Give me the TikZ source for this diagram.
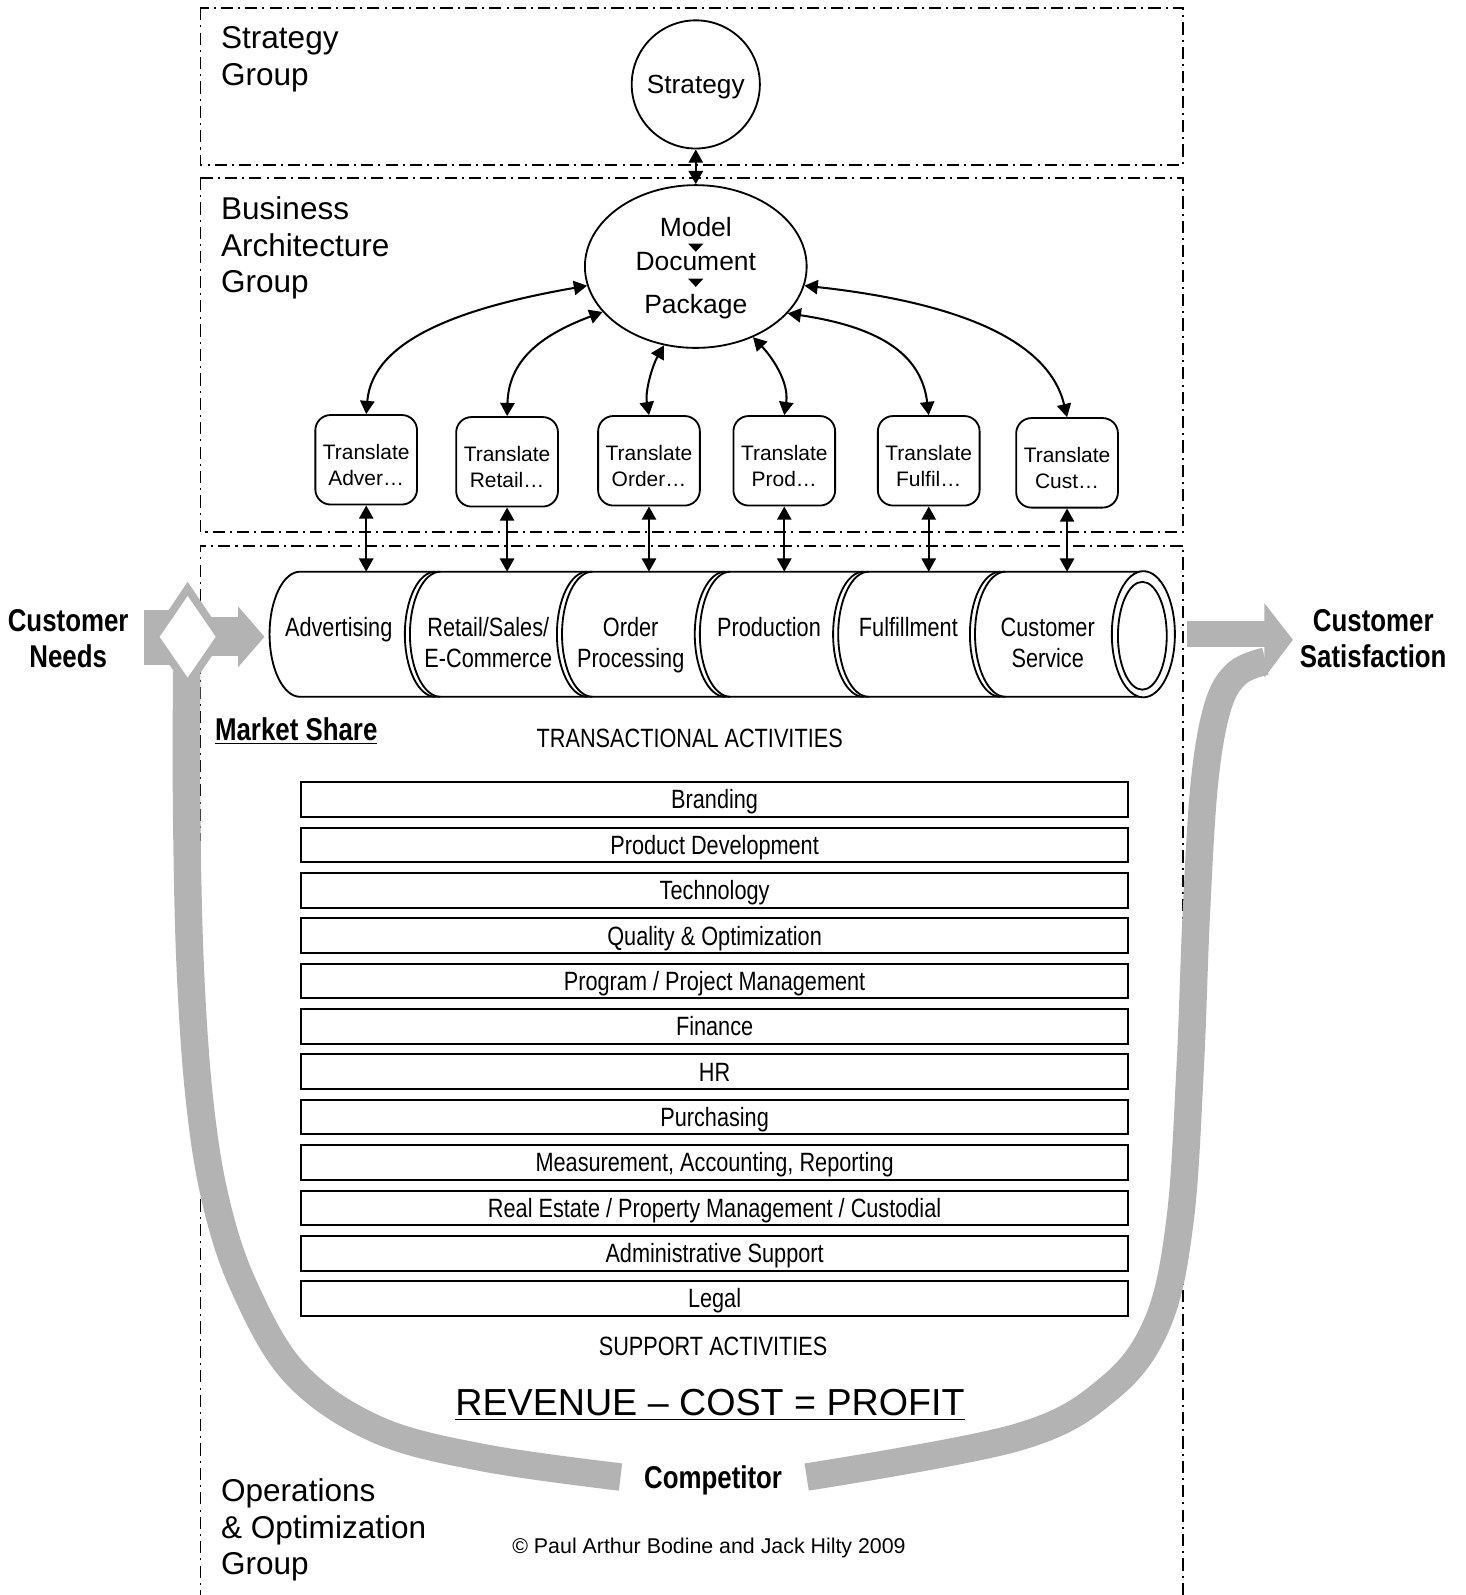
\documentclass[tikz,border=0pt]{standalone}
\usepackage{fontspec}
\setmainfont{Liberation Sans}
\newfontfamily\narrow[FakeStretch=0.82]{Liberation Sans}
\usetikzlibrary{arrows.meta,shapes.geometric}
\definecolor{band}{RGB}{179,179,179}
\begin{document}
\begin{tikzpicture}[x=0.5pt,y=-0.5pt,
  grp/.style={line width=0.75pt, dash pattern=on 6pt off 2.5pt on 1pt off 2.5pt},
  arr/.style={line width=1pt, {Triangle[length=6.5pt,width=7pt]}-{Triangle[length=6.5pt,width=7pt]}},
  shp/.style={line width=0.9pt},
  lbl/.style={inner sep=0pt, align=left, font=\fontsize{15.5}{18}\selectfont},
  etxt/.style={inner sep=0pt, font=\fontsize{13}{15}\selectfont},
  tbox/.style={draw, line width=0.9pt, rounded corners=7.5pt, minimum width=50pt, minimum height=44pt, inner sep=0pt, align=center, font=\fontsize{10.3}{12.5}\selectfont},
  pipelbl/.style={inner sep=0pt, align=center, font=\narrow\fontsize{13}{15}\selectfont},
  bar/.style={draw, line width=1pt, minimum width=406.5pt, minimum height=17pt, inner sep=0pt, text height=10.6pt, text depth=1.4pt, font=\narrow\fontsize{13}{15}\selectfont},
  bigbold/.style={inner sep=0pt, align=center, font=\narrow\bfseries\fontsize{15.5}{18}\selectfont},
  smalltxt/.style={inner sep=0pt, font=\narrow\fontsize{13}{15}\selectfont}
]
\useasboundingbox (0,0) rectangle (1441,1568);

% group frames
\draw[grp] (197,8) rectangle (1163,162);
\draw[grp] (197,175) rectangle (1163,523);
\draw[grp] (197,1575) -- (197,536.5) -- (1163,536.5) -- (1163,1575);

\node[lbl, anchor=west] (sg) at (217,58) {Strategy\\Group};
\node[lbl, anchor=west] (bag) at (217,244) {Business\\Architecture\\Group};
\node[lbl, anchor=west] (oog) at (217,1504) {Operations\\\& Optimization\\Group};

% strategy and model
\node[draw, shp, circle, minimum size=63pt, inner sep=0pt, text height=9.2pt, text depth=0pt, font=\fontsize{12.9}{15}\selectfont] (strategy) at (684,83) {Strategy};
\node[draw, shp, ellipse, minimum width=109pt, minimum height=80pt, inner sep=0pt] (model) at (684,262) {};
\node[etxt] (m1) at (684,223) {Model};
\node[etxt] (m2) at (684,257) {Document};
\node[etxt] (m3) at (684,301) {Package};
\fill (676.5,239.5) -- (691.5,239.5) -- (684,247.5) -- cycle;
\fill (676.5,274) -- (691.5,274) -- (684,282) -- cycle;
\draw[arr] (strategy.south) -- (model.north);

% translate boxes
\node[tbox] (t1) at (360,452) {\rule{0pt}{12.5pt}Translate\\Adver…};
\node[tbox] (t2) at (498.5,454) {\rule{0pt}{12.5pt}Translate\\Retail…};
\node[tbox] (t3) at (638,453) {\rule{0pt}{12.5pt}Translate\\Order…};
\node[tbox] (t4) at (771,453) {\rule{0pt}{12.5pt}Translate\\Prod…};
\node[tbox] (t5) at (913,453) {\rule{0pt}{12.5pt}Translate\\Fulfil…};
\node[tbox] (t6) at (1049,455) {\rule{0pt}{12.5pt}Translate\\Cust…};

\draw[arr] (t1.north) .. controls (366,335) and (450,303) .. (model.190);
\draw[arr] (t2.north) .. controls (500,355) and (530,330) .. (model.206);
\draw[arr] (t3.north) .. controls (634,385) and (641,360) .. (model.248);
\draw[arr] (t4.north) .. controls (776,375) and (758,350) .. (model.309);
\draw[arr] (t5.north) .. controls (906,350) and (868,322) .. (model.333);
\draw[arr] (t6.north) .. controls (1030,330) and (930,296) .. (model.350.5);

% grey flows
\draw[band, line width=13.5pt] plot[smooth, tension=0.6] coordinates {(183.5,660) (183.5,800) (187,950) (196,1080) (212,1180) (240,1265) (290,1350) (370,1405) (475,1433) (610,1452)};
\draw[band, line width=13.5pt] plot[smooth, tension=0.6] coordinates {(793,1452) (1000,1413) (1090,1365) (1138,1300) (1160,1200) (1170,1050) (1176,900) (1184,770) (1197,695) (1216,662) (1244,650)};
\fill[band] (141.5,600) rectangle (184.5,654);
\fill[band] (184.5,572) -- (221,626) -- (184.5,680) -- (148,626) -- cycle;
\fill[band] (184.5,607) rectangle (236,645);
\fill[band] (234,596) -- (260,626) -- (234,656) -- cycle;
\fill[white] (184.5,586) -- (212,626) -- (184.5,666) -- (157,626) -- cycle;
\fill[band] (1167,610) rectangle (1244,636);
\fill[band] (1243,593) -- (1271,629) -- (1243,666) -- cycle;

\node[bigbold] (needs) at (67,628) {Customer\\Needs};
\node[bigbold] (satis) at (1350,628) {Customer\\Satisfaction};

% pipe
\coordinate (pipetop) at (0,562);
\filldraw[shp, fill=white] (295,562) -- (1124,562) -- (1124,685) -- (295,685) arc[start angle=90, end angle=270, x radius=30, y radius=61.5] -- cycle;
\foreach \L in {398,547.5,683,819,953.5} {
  \draw[shp] ({\L+30},562) arc[start angle=270, end angle=90, x radius=30, y radius=61.5];
  \draw[shp] ({\L+35},562) arc[start angle=270, end angle=90, x radius=30, y radius=61.5];
}
\filldraw[shp, fill=white] (1124,623.5) ellipse[x radius=31, y radius=62];
\draw[shp] (1123,625) ellipse[x radius=24, y radius=53];

\node[pipelbl, anchor=base] (p1) at (333,626) {Advertising};
\node[pipelbl, anchor=base] (p2) at (480,656) {Retail/Sales/\\E-Commerce};
\node[pipelbl, anchor=base] (p3) at (620,656) {Order\\Processing};
\node[pipelbl, anchor=base] (p4) at (756,626) {Production};
\node[pipelbl, anchor=base] (p5) at (893,626) {Fulfillment};
\node[pipelbl, anchor=base] (p6) at (1030,656) {Customer\\Service};

\foreach \t in {t1,t2,t3,t4,t5,t6} {
  \draw[arr] (\t.south) -- (\t.south |- pipetop);
}

% texts
\node[inner sep=0pt, anchor=west, font=\narrow\bfseries\fontsize{15.5}{18}\selectfont] (ms) at (211,719) {\underline{Market Share}};
\node[smalltxt] (ta) at (678,726) {TRANSACTIONAL ACTIVITIES};

% support bars
\foreach \txt [count=\i from 0] in {Branding,Product Development,Technology,Quality \& Optimization,Program / Project Management,Finance,HR,Purchasing,{Measurement, Accounting, Reporting},Real Estate / Property Management / Custodial,Administrative Support,Legal} {
  \node[bar] (b\i) at (702.5,{786+44.6*\i}) {\txt};
}

\node[smalltxt] (sa) at (701,1324) {SUPPORT ACTIVITIES};
\node[inner sep=0pt, font=\fontsize{18.5}{22}\selectfont] (rev) at (698,1381) {\underline{REVENUE – COST = PROFIT}};
\node[bigbold] (comp) at (701,1455) {Competitor};
\node[inner sep=0pt, font=\fontsize{10.5}{12}\selectfont] (copy) at (697,1522) {© Paul Arthur Bodine and Jack Hilty 2009};
\end{tikzpicture}
\end{document}
